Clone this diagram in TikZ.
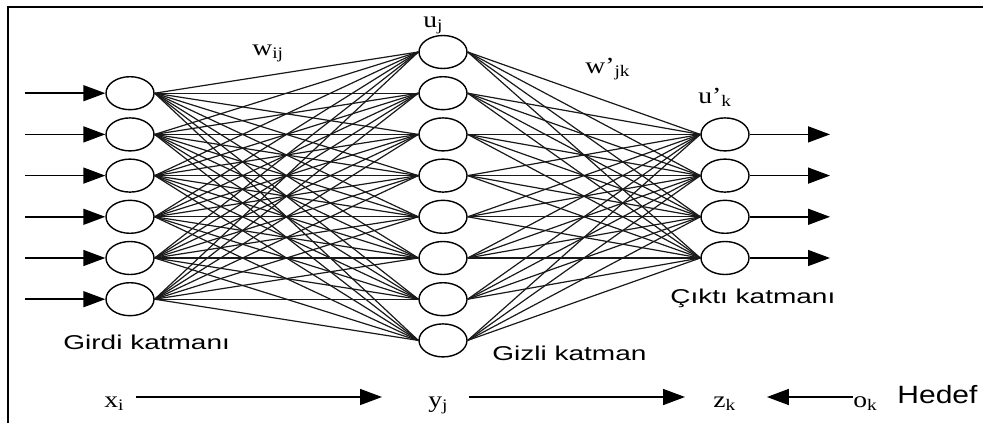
\documentclass[tikz,border=0pt]{standalone}
\usepackage{fontspec}
\usepackage{amsmath}
\setmainfont{Liberation Serif}
\setsansfont{Liberation Sans}
\usetikzlibrary{arrows.meta,shapes.geometric}

% the original figure is stretched sideways
\newcommand{\wideR}[1]{\scalebox{1.2}[1]{#1}}
\newcommand{\wideS}[1]{\scalebox{1.4}[1]{#1}}

\tikzset{
  neuron/.style={ellipse,draw,line width=0.7pt,minimum width=24pt,minimum height=16.5pt,inner sep=0pt},
  link/.style={line width=0.6pt,black!90},
  flow/.style={line width=0.75pt,-{Triangle[length=11pt,width=8pt]}},
  sym/.style={font=\fontsize{11.5}{13}\selectfont,inner sep=0pt,anchor=base west},
  rowsym/.style={sym,text height=12pt,text depth=2pt},
  layer/.style={font=\sffamily\fontsize{10}{12}\selectfont,inner sep=0pt,anchor=base west},
}

\begin{document}
\begin{tikzpicture}[x=0.5pt,y=-0.5pt]
  \useasboundingbox (0,0) rectangle (983,423);

  % Frame
  \draw[line width=0.8pt] (8,423) -- (8,7) -- (983,7);

  % Neurons
  \foreach \i in {1,...,6} \node[neuron] (in\i) at (130,{52+41.2*\i}) {};
  \foreach \j in {1,...,8} \node[neuron] (hid\j) at (443,{52+41.2*(\j-1)}) {};
  \foreach \k in {1,...,4} \node[neuron] (out\k) at (725,{52+41.2*(\k+1)}) {};

  % Weights
  \foreach \i in {1,...,6} \foreach \j in {1,...,8} \draw[link] (in\i.east) -- (hid\j.west);
  \foreach \j in {1,...,8} \foreach \k in {1,...,4} \draw[link] (hid\j.east) -- (out\k.west);

  % Input and output arrows
  \foreach \i in {1,...,6} {
    \coordinate (src\i) at (25,{52+41.2*\i});
    \draw[flow] (src\i) -- (in\i);
  }
  \foreach \k in {1,...,4} {
    \coordinate (dst\k) at (830,{52+41.2*(\k+1)});
    \draw[flow] (out\k) -- (dst\k);
  }

  % Weight and unit labels
  \node[sym] (wij) at (252,55) {\wideR{w$_\text{ij}$}};
  \node[sym] (uj) at (423,27) {\wideR{u$_\text{j}$}};
  \node[sym] (wjk) at (585,73) {\wideR{w’$_\text{jk}$}};
  \node[sym] (uk) at (698,103) {\wideR{u’$_\text{k}$}};

  % Layer names
  \node[layer] (girdi) at (63,349) {\wideS{Girdi katmanı}};
  \node[layer] (gizli) at (492,360) {\wideS{Gizli katman}};
  \node[layer] (cikti) at (670,303) {\wideS{Çıktı katmanı}};

  % Signal row
  \node[rowsym] (lx) at (104,407) {\wideR{x$_\text{i}$}};
  \node[rowsym] (ly) at (428,407) {\wideR{y$_\text{j}$}};
  \node[rowsym] (lz) at (713,407) {\wideR{z$_\text{k}$}};
  \node[rowsym] (lo) at (853,407) {\wideR{o$_\text{k}$}};
  \node[layer,font=\sffamily\fontsize{12.5}{14}\selectfont] (hedef) at (897,403) {\scalebox{1.2}[1]{Hedef}};
  \draw[flow,shorten <=5.5pt,shorten >=23pt] (lx.east) -- (ly.west);
  \draw[flow,shorten <=10pt,shorten >=14pt] (ly.east) -- (lz.west);
  \draw[flow,shorten >=15pt] (lo.west) -- (lz.east);
\end{tikzpicture}
\end{document}
